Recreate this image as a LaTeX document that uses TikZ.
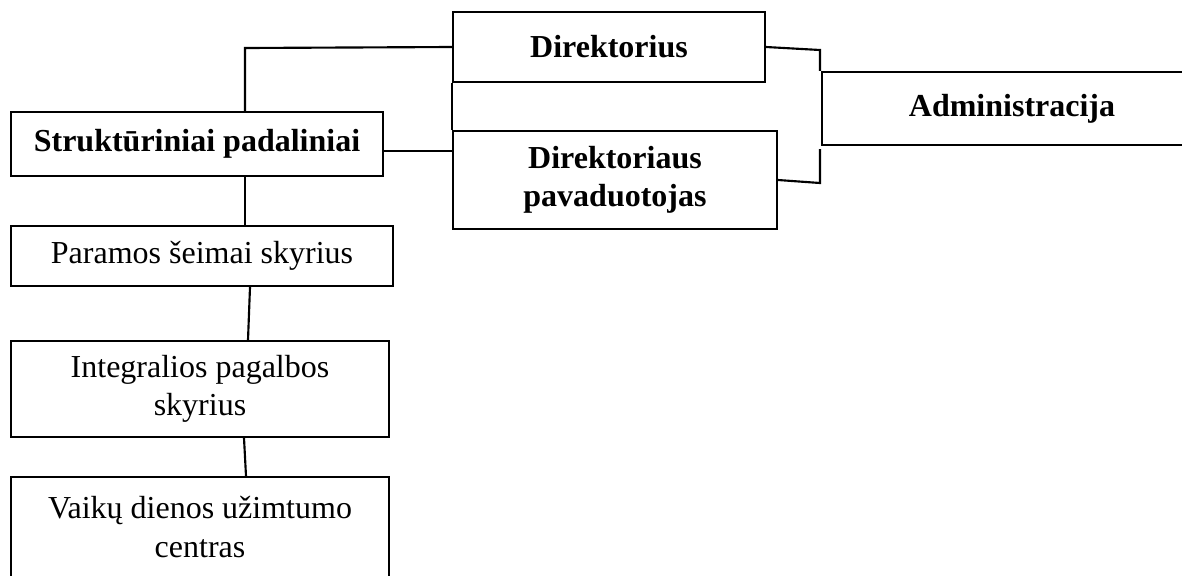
\documentclass[tikz,border=0pt]{standalone}
\usepackage{fontspec}
\setmainfont{Liberation Serif}
\newcommand{\px}[1]{#1*0.375pt}
\begin{document}
\begin{tikzpicture}[x=0.375pt,y=-0.375pt,
  box/.style={draw,line width=0.8pt,rectangle,inner sep=0pt,align=center,
    font=\fontsize{12}{14.3}\selectfont},
  bbox/.style={box,font=\fontsize{12}{14.3}\selectfont\bfseries},
  conn/.style={line width=0.8pt}]
\useasboundingbox (0,0) rectangle (1182,575);
\clip (0,0) rectangle (1182,575);
\node[bbox,minimum width=\px{312},minimum height=\px{70}] (dir) at (609,47) {Direktorius};
\node[bbox,minimum width=\px{324},minimum height=\px{98}] (pav) at (615,180) {Direktoriaus\\pavaduotojas};
\node[bbox,minimum width=\px{372},minimum height=\px{64}] (str) at (197,144) {Strukt\=uriniai padaliniai};
\node[bbox,minimum width=\px{380},minimum height=\px{73}] (adm) at (1012,108.5) {Administracija};
\node[box,minimum width=\px{382},minimum height=\px{60}] (par) at (202,256) {Paramos šeimai skyrius};
\node[box,minimum width=\px{378},minimum height=\px{96}] (int) at (200,389) {Integralios pagalbos\\skyrius};
\node[box,minimum width=\px{378},minimum height=\px{100}] (vai) at (200,527) {Vaikų dienos užimtumo\\centras};
\coordinate (j1) at (245,48);
\coordinate (bt) at (820,50);
\coordinate (bb) at (820,183);
\coordinate (bg) at (820,149);
\draw[conn] (j1 |- str.north) -- (j1) -- (dir.west);
\draw[conn] (dir.south west) -- (pav.north west);
\draw[conn] (str.east |- 0,151) -- (pav.west |- 0,151);
\draw[conn] (dir.east) -- (bt) -- (bt |- adm.north);
\draw[conn] (bg) -- (bb) -- (pav.east);
\draw[conn] (j1 |- str.south) -- (j1 |- par.north);
\draw[conn] (par.south -| 250,0) -- (int.north -| 248,0);
\draw[conn] (int.south -| 244,0) -- (vai.north -| 246,0);
\end{tikzpicture}
\end{document}
